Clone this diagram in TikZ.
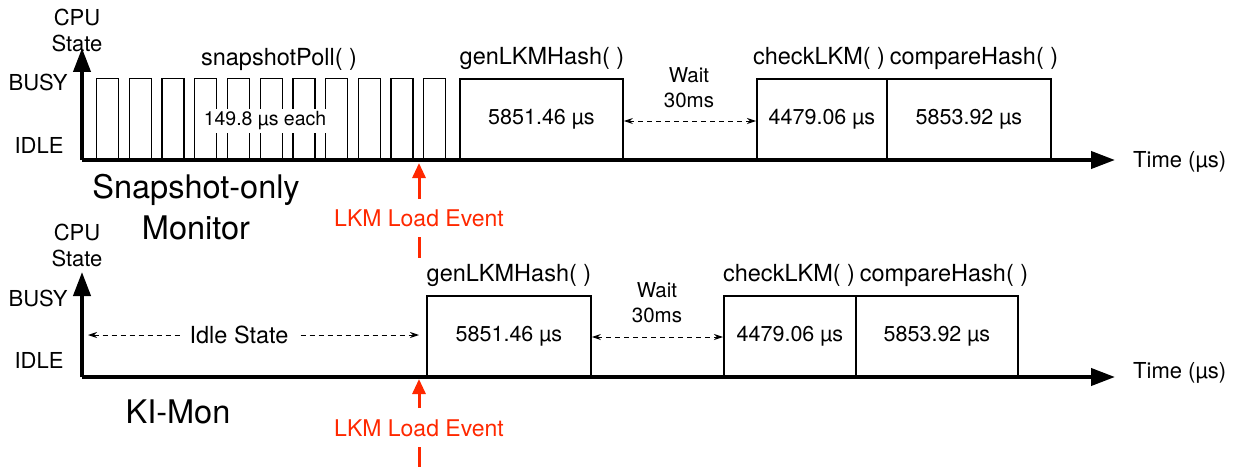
\documentclass[tikz,border=0pt]{standalone}
\usepackage{fontspec}
\setmainfont{TeX Gyre Heros}
\usetikzlibrary{arrows.meta}
\definecolor{evred}{RGB}{255,40,0}
\begin{document}
\begin{tikzpicture}[x=1pt,y=-1pt,
  lbl/.style={font=\fontsize{23.5}{26}\selectfont, inner sep=0pt},
  small/.style={font=\fontsize{22}{26}\selectfont, inner sep=0pt, align=center},
  val/.style={font=\fontsize{21.5}{24}\selectfont},
  big/.style={font=\fontsize{32.5}{38}\selectfont, inner sep=0pt},
  redlbl/.style={font=\fontsize{23}{26}\selectfont, inner sep=0pt, text=evred},
  box/.style={draw, line width=1.8pt, anchor=south west, inner sep=0pt, minimum height=80pt},
  pulse/.style={draw, line width=1.3pt, minimum width=22pt, minimum height=81pt, anchor=south west, inner sep=0pt},
  axis/.style={line width=4pt, -{Triangle[length=24pt,width=17pt]}},
  evarrow/.style={draw=evred, line width=3pt, -{Triangle[length=15pt,width=13pt]}},
  evdash/.style={draw=evred, line width=3pt},
  span/.style={dashed, line width=1pt, dash pattern=on 5pt off 4pt, {Stealth[length=9pt,width=6pt]}-{Stealth[length=9pt,width=6pt]}},
  bgtext/.style={fill=white, inner ysep=3pt, inner xsep=3pt}
]
\useasboundingbox (0,0) rectangle (1238,468);

% ---------------- Top panel ----------------
\coordinate (o1) at (82,160);
\coordinate (y1) at (82,48);
\coordinate (t1) at (1115,160);

\foreach \i/\x in {1/96,2/128.7,3/161.4,4/194.1,5/226.8,6/259.5,7/292.2,8/324.9,9/357.6,10/390.3,11/423}
  \node[pulse] (p\i) at (\x,160) {};

\node[bgtext, val, font=\fontsize{19.5}{22}\selectfont] (each) at (265,121) {149.8 µs each};
\node[lbl] (poll) at (279,59) {snapshotPoll( )};

\node[box, minimum width=163pt] (gen1) at (459,160) {\fontsize{21.5}{24}\selectfont 5851.46 µs};
\node[box, minimum width=130pt] (chk1) at (756,160) {\fontsize{21.5}{24}\selectfont 4479.06 µs};
\node[box, minimum width=164pt] (cmp1) at (886,160) {\fontsize{21.5}{24}\selectfont 5853.92 µs};

\node[lbl] (gen1l) at (542,58) {genLKMHash( )};
\node[lbl] (chk1l) at (819,58) {checkLKM( )};
\node[lbl] (cmp1l) at (974,58) {compareHash( )};

\node[small, font=\fontsize{20.5}{25}\selectfont] (wait1) at (689,88) {Wait\\30ms};
\draw[span] (gen1.east |- 0,121) -- (chk1.west |- 0,121);

\draw[axis] (o1) -- (y1);
\draw[axis] (o1) -- (t1);

\node[small] (cpu1) at (77,30) {CPU\\State};
\node[small] (busy1) at (38,82) {BUSY};
\node[small] (idle1) at (39,145) {IDLE};
\node[small, anchor=west] (time1) at (1133,162) {Time (µs)};

\node[big] (snap) at (196,190) {Snapshot-only};
\node[big] (mon) at (196,228) {Monitor};

\coordinate (ev1a) at (419,199);
\coordinate (ev1b) at (419,163);
\draw[evarrow] (ev1a) -- (ev1b);
\node[redlbl] (ev1) at (419,218) {LKM Load Event};
\coordinate (d1a) at (419,237);
\coordinate (d1b) at (419,258);
\draw[evdash] (d1a) -- (d1b);

% ---------------- Bottom panel ----------------
\coordinate (o2) at (82,377);
\coordinate (y2) at (82,272);
\coordinate (t2) at (1115,377);

\node[box, minimum width=164pt] (gen2) at (426,377) {\fontsize{21.5}{24}\selectfont 5851.46 µs};
\node[box, minimum width=132pt] (chk2) at (723,377) {\fontsize{21.5}{24}\selectfont 4479.06 µs};
\node[box, minimum width=162pt] (cmp2) at (855,377) {\fontsize{21.5}{24}\selectfont 5853.92 µs};

\node[lbl] (gen2l) at (509,275) {genLKMHash( )};
\node[lbl] (chk2l) at (789,275) {checkLKM( )};
\node[lbl] (cmp2l) at (944,275) {compareHash( )};

\node[small, font=\fontsize{20.5}{25}\selectfont] (wait2) at (657,303) {Wait\\30ms};
\draw[span] (gen2.east |- 0,337) -- (chk2.west |- 0,337);

\coordinate (is1) at (88,335);
\coordinate (is2) at (419,335);
\draw[span] (is1) -- (is2);
\node[bgtext, lbl, inner xsep=10pt] (idlest) at (239,335) {Idle State};

\draw[axis] (o2) -- (y2);
\draw[axis] (o2) -- (t2);

\node[small] (cpu2) at (77,245) {CPU\\State};
\node[small] (busy2) at (38,298) {BUSY};
\node[small] (idle2) at (39,360) {IDLE};
\node[small, anchor=west] (time2) at (1133,373) {Time (µs)};

\node[big] (kimon) at (178,412) {KI-Mon};

\coordinate (ev2a) at (419,408);
\coordinate (ev2b) at (419,379);
\draw[evarrow] (ev2a) -- (ev2b);
\node[redlbl] (ev2) at (419,428) {LKM Load Event};
\coordinate (d2a) at (419,447);
\coordinate (d2b) at (419,467);
\draw[evdash] (d2a) -- (d2b);
\end{tikzpicture}
\end{document}
